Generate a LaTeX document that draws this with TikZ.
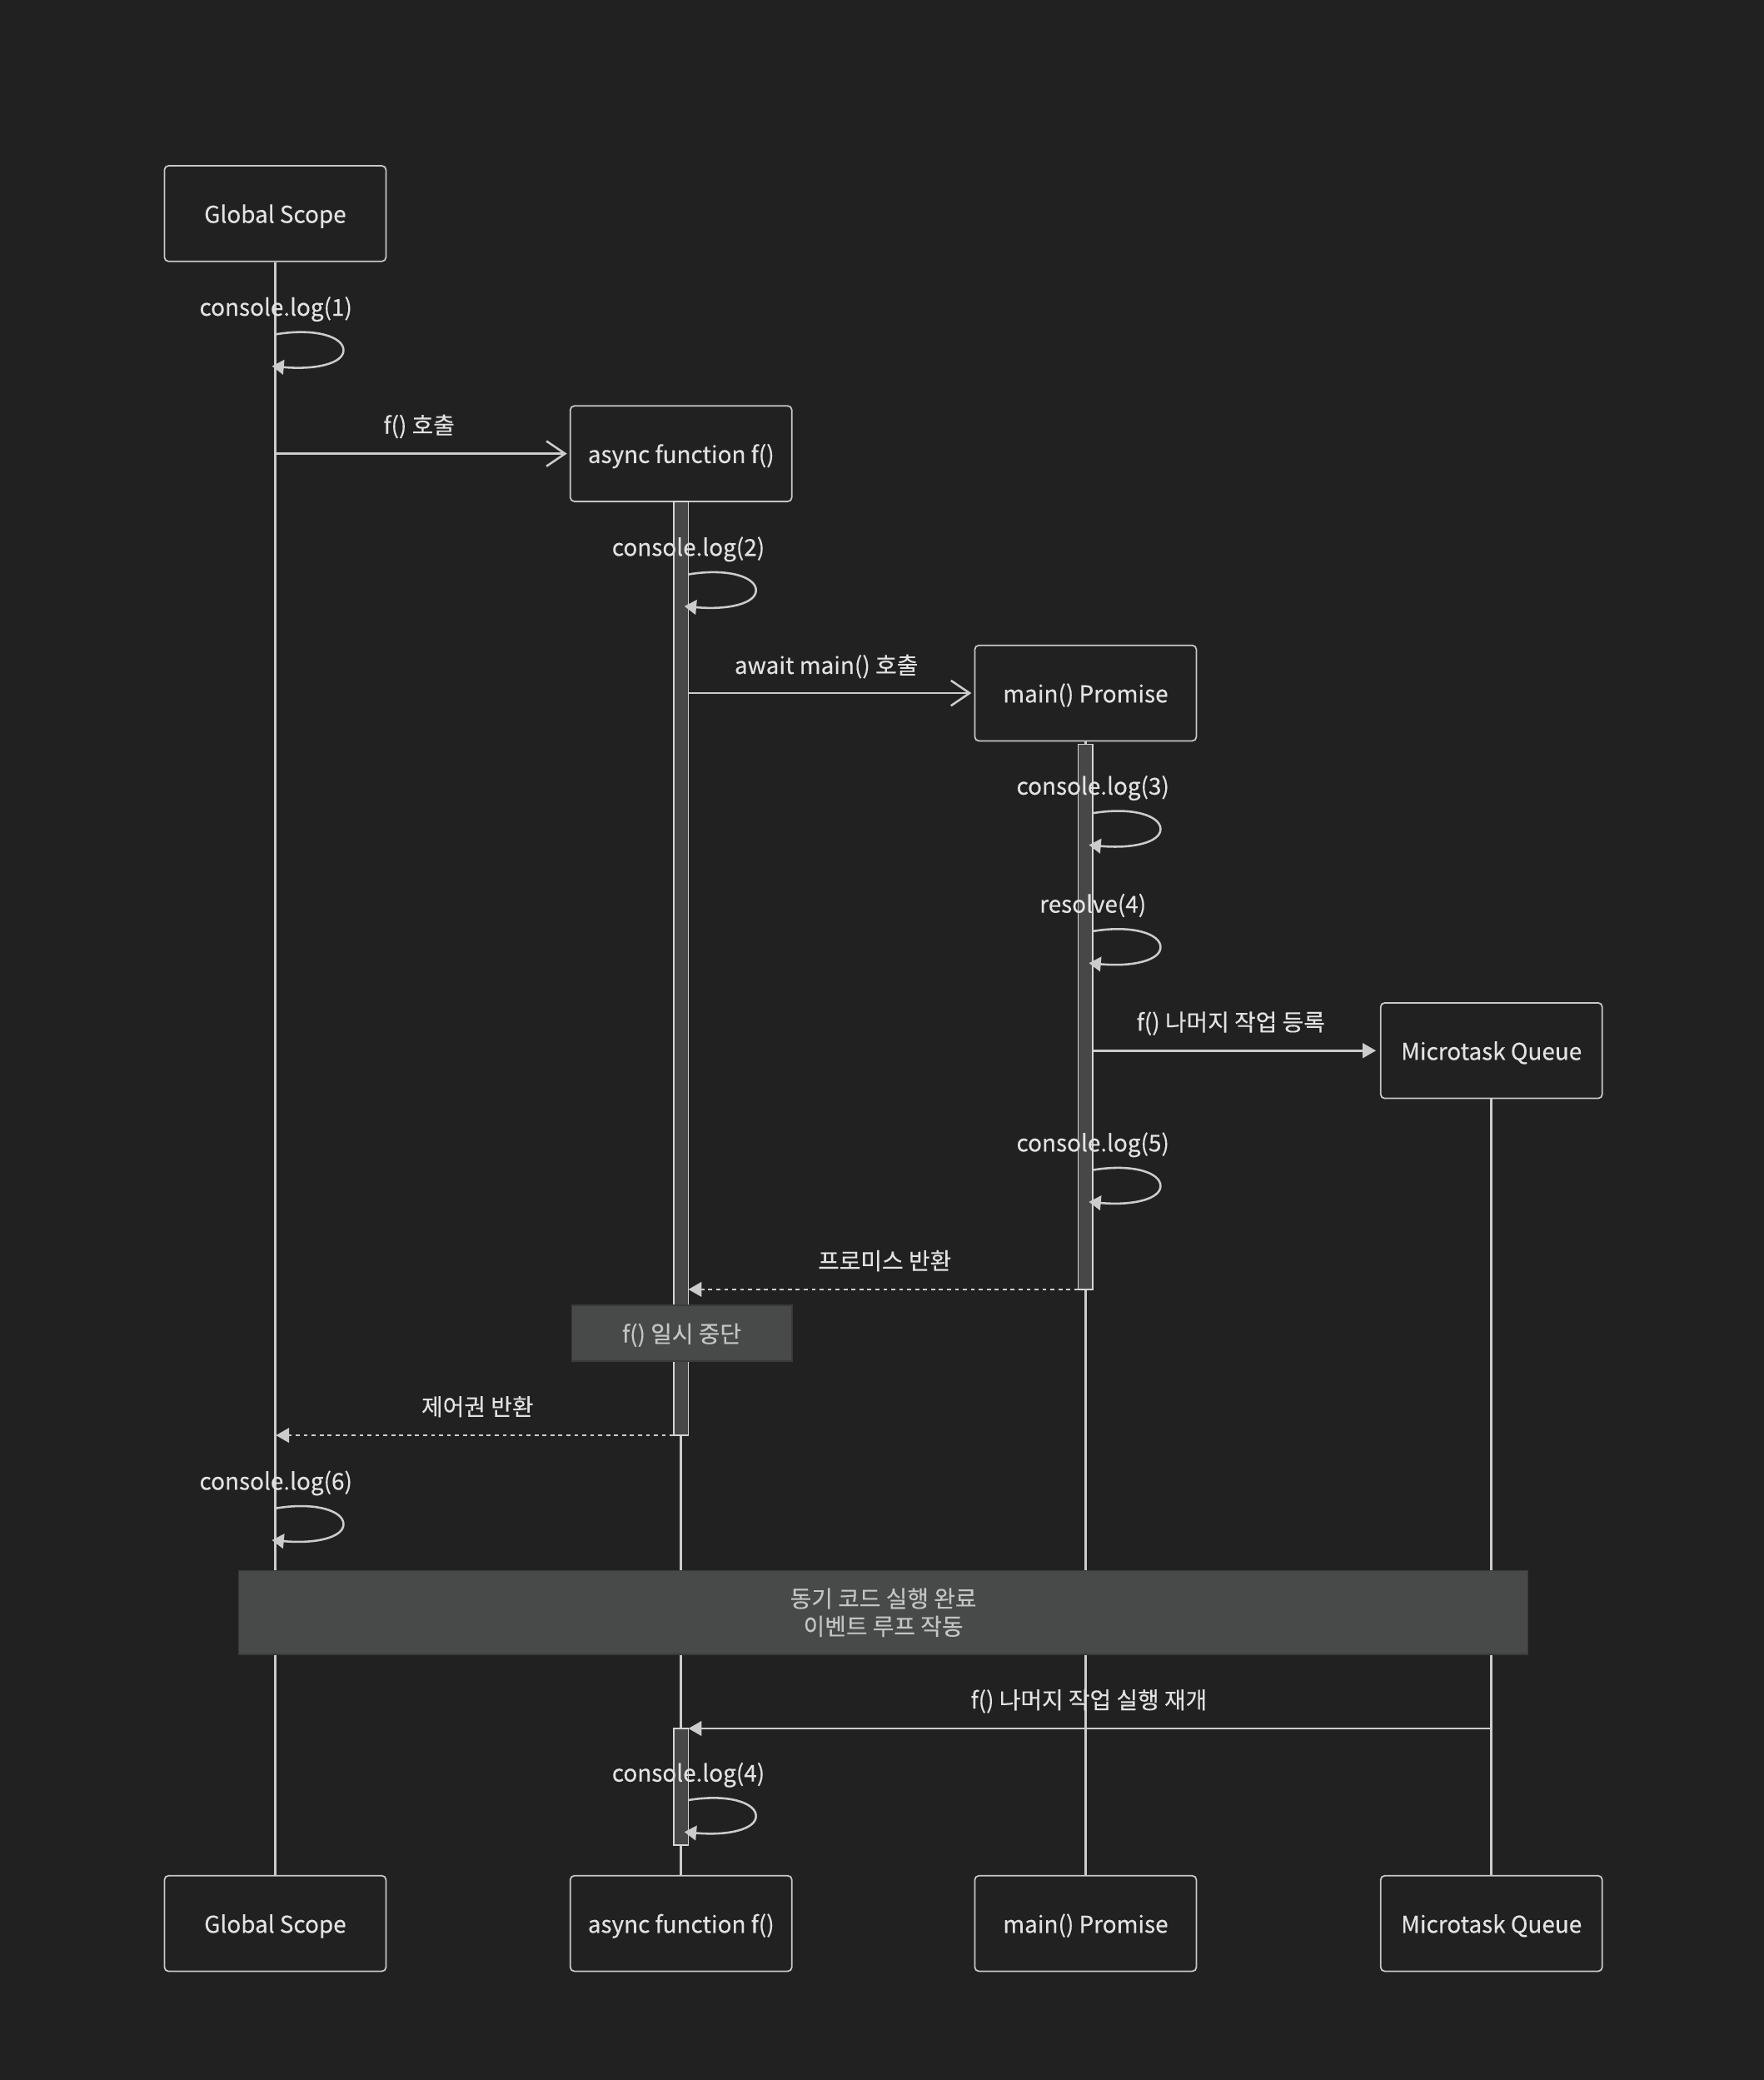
\documentclass[tikz,border=0pt]{standalone}
\usepackage{fontspec}
\setmainfont[FakeBold=0.35]{Noto Sans CJK KR}
\usetikzlibrary{arrows.meta}
\definecolor{bg}{HTML}{212121}
\definecolor{linec}{HTML}{CCCCCC}
\definecolor{boxc}{HTML}{C8C8C8}
\definecolor{txt}{HTML}{E2E2E2}
\definecolor{notefill}{HTML}{484949}
\definecolor{notedraw}{HTML}{3A3A3A}
\definecolor{notetxt}{HTML}{C4C4C4}
\definecolor{actfill}{HTML}{474747}
\newcommand\mkloop[4]{%
  \coordinate (#3s) at (#1,#2);
  \coordinate (#3e) at (#1-3,#2+24);
  \node[lbl] (#3l) at (#1,#2-21) {#4};
  \draw[msgline,-{Triangle[length=9pt,width=11pt]}] (#3s) .. controls (#1+30,#2-5) and (#1+51,#2+2) .. (#1+51,#2+12) .. controls (#1+51,#2+22) and (#1+30,#2+27) .. (#3e);
}
\begin{document}
\begin{tikzpicture}[x=1pt,y=-1pt,
  actor/.style={draw=boxc, line width=1.1pt, rounded corners=3pt, fill=bg, minimum width=167pt, minimum height=72pt, inner sep=0pt, text=txt, font=\fontsize{17.5}{20}\selectfont, text height=15pt, text depth=1pt},
  life/.style={draw=linec, line width=1.6pt},
  actbar/.style={draw=linec!80, fill=actfill, line width=1pt, minimum width=11pt, inner sep=0pt},
  lbl/.style={text=txt, font=\fontsize{17.5}{20}\selectfont, inner sep=0pt, text height=15pt, text depth=1pt},
  msgline/.style={draw=linec, line width=1.6pt},
  openhead/.style={msgline, -{Straight Barb[length=14pt,width=19pt,line width=1.6pt]}},
  fillhead/.style={msgline, -{Triangle[length=10pt,width=11pt]}},
  dashmsg/.style={fillhead, dash pattern=on 3pt off 3pt},
  note/.style={fill=notefill, draw=notedraw, line width=1pt, inner sep=0pt, text=notetxt, font=\fontsize{17.5}{21}\selectfont, align=center}
]
\fill[bg] (0,0) rectangle (1330,1568);
\useasboundingbox (0,0) rectangle (1330,1568);

% actors top
\node[actor] (gT) at (207.5,161) {Global Scope};
\node[actor] (fT) at (513.5,342) {async function f()};
\node[actor] (mT) at (818.5,522.5) {main() Promise};
\node[actor] (qT) at (1124.5,792) {Microtask Queue};
% actors bottom
\node[actor] (gB) at (207.5,1450) {Global Scope};
\node[actor] (fB) at (513.5,1450) {async function f()};
\node[actor] (mB) at (818.5,1450) {main() Promise};
\node[actor] (qB) at (1124.5,1450) {Microtask Queue};

% lifelines
\draw[life] (gT.south) -- (gB.north);
\draw[life] (fT.south) -- (fB.north);
\draw[life] (mT.south) -- (mB.north);
\draw[life] (qT.south) -- (qB.north);

% activations
\node[actbar, minimum height=704pt] (a1) at (513.5,730) {};
\node[actbar, minimum height=411pt] (a2) at (818.5,766.5) {};
\node[actbar, minimum height=88pt] (a3) at (513.5,1347) {};

% self loops
\mkloop{208}{252}{l1}{console.log(1)}
\mkloop{519}{433}{l2}{console.log(2)}
\mkloop{824}{613}{l3}{console.log(3)}
\mkloop{824}{702}{l4}{resolve(4)}
\mkloop{824}{882}{l5}{console.log(5)}
\mkloop{208}{1137}{l6}{console.log(6)}
\mkloop{519}{1357}{l7}{console.log(4)}

% messages
\coordinate (m1s) at (208,342);
\draw[openhead, shorten >=2pt] (m1s) -- (fT.west);
\node[lbl] (m1l) at (316,320) {f() 호출};

\coordinate (m2s) at (519,522.5);
\draw[openhead, shorten >=2pt] (m2s) -- (mT.west);
\node[lbl] (m2l) at (623,501) {await main() 호출};

\coordinate (m3s) at (824,792);
\draw[fillhead, shorten >=3pt] (m3s) -- (qT.west);
\node[lbl] (m3l) at (928,770) {f() 나머지 작업 등록};

\coordinate (m4s) at (813,972);
\coordinate (m4e) at (519,972);
\draw[dashmsg] (m4s) -- (m4e);
\node[lbl] (m4l) at (667,950) {프로미스 반환};

\coordinate (m5s) at (508,1082);
\coordinate (m5e) at (208,1082);
\draw[dashmsg] (m5s) -- (m5e);
\node[lbl] (m5l) at (360,1060) {제어권 반환};

\coordinate (m6s) at (1124,1303);
\coordinate (m6e) at (519,1303);
\draw[fillhead] (m6s) -- (m6e);
\node[lbl] (m6l) at (821,1281) {f() 나머지 작업 실행 재개};

% notes
\node[note, minimum width=166pt, minimum height=42pt, text height=15pt, text depth=1pt] (n1) at (514,1005) {f() 일시 중단};
\node[note, minimum width=972pt, minimum height=63pt] (n2) at (666,1215.5) {동기 코드 실행 완료\\이벤트 루프 작동};
\end{tikzpicture}
\end{document}
